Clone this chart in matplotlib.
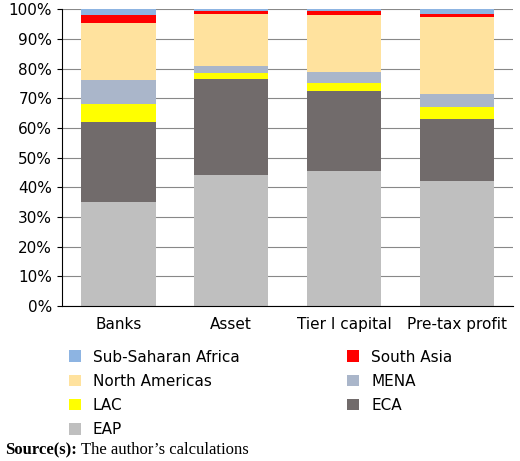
import numpy as np
import matplotlib.pyplot as plt

categories = ['Banks', 'Asset', 'Tier I capital', 'Pre-tax profit']
# cumulative tops, in percent
eap = [35.0, 44.0, 45.5, 42.0]
eca = [62.0, 76.5, 72.5, 63.0]
lac = [68.0, 78.5, 75.0, 67.0]
mena = [76.0, 81.0, 79.0, 71.5]
north_am = [95.5, 98.5, 98.0, 97.5]
south_asia = [98.0, 99.3, 99.3, 98.5]
ssa = [100.0, 100.0, 100.0, 100.0]

names = ['EAP', 'ECA', 'LAC', 'MENA', 'North Americas', 'South Asia', 'Sub-Saharan Africa']
tops = [eap, eca, lac, mena, north_am, south_asia, ssa]
colors = ['#BFBFBF', '#716B6B', '#FFFF00', '#AAB6CA', '#FFE29E', '#FF0000', '#8DB4E2']

fig = plt.figure(figsize=(5.2, 4.61), dpi=100)
ax = fig.add_axes([0.119, 0.336, 0.868, 0.644])
x = np.arange(len(categories))
bottom = np.zeros(len(categories))
bars = {}
for name, top, c in zip(names, tops, colors):
    top = np.array(top)
    bars[name] = ax.bar(x, top - bottom, 0.66, bottom=bottom, color=c, label=name)
    bottom = top

ax.set_ylim(0, 100)
ax.set_xlim(-0.5, 3.5)
ax.set_yticks(np.arange(0, 101, 10))
ax.set_yticklabels([f'{v}%' for v in range(0, 101, 10)], fontsize=11)
ax.set_xticks(x)
ax.set_xticklabels(categories, fontsize=11)
ax.yaxis.grid(True, color='#888888', linewidth=0.8)
ax.set_axisbelow(True)
for s in ['top', 'right']:
    ax.spines[s].set_visible(False)
ax.tick_params(axis='x', length=0, pad=8)

order = ['Sub-Saharan Africa', 'North Americas', 'LAC', 'EAP', 'South Asia', 'MENA', 'ECA']
fig.legend([bars[n] for n in order], order, ncol=2, loc='upper left',
           bbox_to_anchor=(0.12, 0.255), frameon=False, fontsize=11,
           handlelength=0.8, handleheight=0.8, columnspacing=7.0,
           labelspacing=0.6, borderaxespad=0)

t1 = fig.text(0.01, 0.015, 'Source(s):', fontsize=12, family='Liberation Serif',
              fontweight='bold')
fig.canvas.draw()
bb = t1.get_window_extent()
fig.text((bb.x1 + 4) / fig.bbox.width, 0.015, 'The author\u2019s calculations',
         fontsize=12, family='Liberation Serif')
fig.savefig('out.png', dpi=100)
